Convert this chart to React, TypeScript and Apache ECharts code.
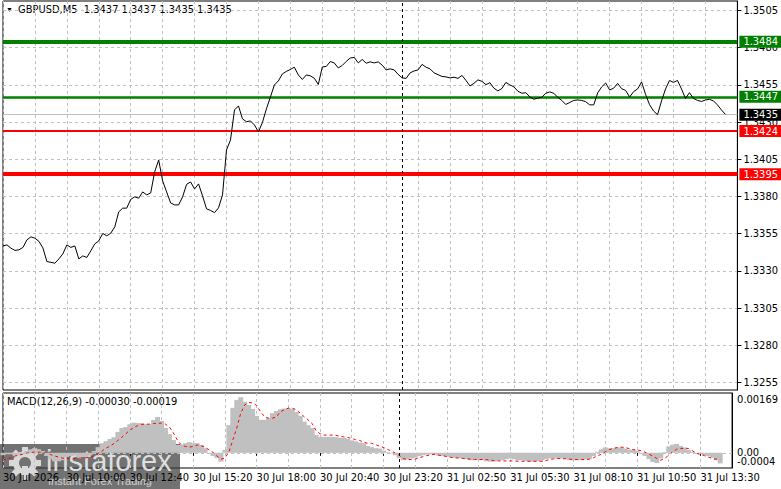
import { useEffect, useRef } from "react";
import * as echarts from "echarts";

// GBPUSD M5, one point every second bar (10 min)
const priceClose = [
  1.33468, 1.33475, 1.33453, 1.33438, 1.33442, 1.33458, 1.33509, 1.33529, 1.3352, 1.33499,
  1.33455, 1.33363, 1.33358, 1.33352, 1.33381, 1.33415, 1.33475, 1.33458, 1.33468, 1.33381,
  1.33401, 1.33391, 1.33435, 1.33482, 1.33502, 1.33552, 1.33536, 1.33554, 1.33596, 1.33697,
  1.33722, 1.33722, 1.33781, 1.33798, 1.33789, 1.33831, 1.33811, 1.33824, 1.33966, 1.34046,
  1.33905, 1.33831, 1.33757, 1.33744, 1.33744, 1.33798, 1.33882, 1.33898, 1.33851, 1.33885,
  1.33804, 1.33717, 1.33707, 1.33692, 1.33724, 1.33811, 1.34113, 1.3418, 1.34382, 1.34409,
  1.34322, 1.34303, 1.34308, 1.34281, 1.34234, 1.34298, 1.34389, 1.34469, 1.3455, 1.34577,
  1.34624, 1.34641, 1.34654, 1.34669, 1.34617, 1.34587, 1.34617, 1.34611, 1.34595, 1.34553,
  1.34671, 1.34674, 1.34707, 1.34698, 1.34664, 1.34681, 1.34708, 1.34731, 1.34735, 1.34698,
  1.34721, 1.34696, 1.34705, 1.34698, 1.34705, 1.34683, 1.34651, 1.34658, 1.34651, 1.34621,
  1.34597, 1.34594, 1.34631, 1.34644, 1.34651, 1.34688, 1.34669, 1.34658, 1.34631, 1.34619,
  1.34607, 1.34604, 1.34597, 1.34602, 1.34594, 1.34614, 1.3458, 1.34543, 1.34561, 1.34584,
  1.34574, 1.34552, 1.34565, 1.34528, 1.3451, 1.34526, 1.34567, 1.3455, 1.34537, 1.34508,
  1.34494, 1.34498, 1.34469, 1.34454, 1.34461, 1.34467, 1.34494, 1.34503, 1.34494, 1.34467,
  1.34446, 1.34419, 1.34432, 1.34446, 1.34449, 1.34446, 1.34437, 1.34416, 1.34416, 1.34496,
  1.34537, 1.34563, 1.34516, 1.34528, 1.3456, 1.34525, 1.34513, 1.34469, 1.34505, 1.34523,
  1.3457, 1.34486, 1.34417, 1.34375, 1.3435, 1.34443, 1.34523, 1.3458, 1.34567, 1.3458,
  1.34523, 1.34459, 1.34498, 1.34459, 1.34446, 1.34439, 1.34449, 1.34453, 1.34443, 1.34416,
  1.34382, 1.34352,
];

const macdHist = [
  -0.00007, -0.00004, -0.00004, -0.00007, -0.00007, -0.00004, 0.00005, 0.0001, 0.00013, 0.0001,
  0.00005, -0.00009, -0.00018, -0.00024, -0.00024, -0.00021, -0.00012, -0.00009, -0.00007, -0.00012,
  -0.00012, -0.00012, -0.00007, 0.00005, 0.00016, 0.00027, 0.00033, 0.00039, 0.00044, 0.00059,
  0.0007, 0.00073, 0.00081, 0.00085, 0.00084, 0.00084, 0.00081, 0.00081, 0.00093, 0.00101,
  0.0009, 0.0007, 0.00053, 0.00036, 0.00022, 0.00022, 0.00027, 0.0003, 0.00027, 0.00027,
  0.00022, 0.00013, -0.00001, -0.00009, -0.00015, -0.00025, 0.00008, 0.00078, 0.00127, 0.00149,
  0.00157, 0.00144, 0.00135, 0.00124, 0.00104, 0.00093, 0.00093, 0.00098, 0.00112, 0.00118,
  0.00123, 0.00125, 0.00126, 0.00124, 0.00115, 0.00104, 0.00088, 0.00078, 0.0007, 0.0005,
  0.00045, 0.00045, 0.00045, 0.00045, 0.00044, 0.00042, 0.00042, 0.00039, 0.00035, 0.00032,
  0.00029, 0.00027, 0.00019, 0.00016, 0.00013, 0.00012, 0.00006, 0.00002, -0.00002, -0.00007,
  -0.00015, -0.00021, -0.00019, -0.00016, -0.00014, -0.00009, -0.00007, -0.00005, -0.00004, -0.00005,
  -0.00008, -0.00009, -0.00011, -0.00012, -0.00014, -0.00015, -0.00016, -0.00018, -0.00021, -0.00021,
  -0.00021, -0.00021, -0.00024, -0.00025, -0.00025, -0.00022, -0.00021, -0.00018, -0.00016, -0.00018,
  -0.00021, -0.00021, -0.00024, -0.00025, -0.00025, -0.00024, -0.00021, -0.00018, -0.00016, -0.00016,
  -0.00016, -0.00016, -0.00018, -0.00021, -0.00021, -0.00021, -0.00021, -0.00019, -0.00018, -0.00009,
  0.00003, 0.0001, 0.00015, 0.00013, 0.00013, 0.00015, 0.00015, 0.00012, 0.00009, 0.00008,
  0.00006, -0.00001, -0.00009, -0.00018, -0.00026, -0.00029, -0.00016, 0.00002, 0.00018, 0.00023,
  0.00025, 0.00019, 0.00015, 0.00008, 0.00003, -0.00002, -0.00004, -0.00007, -0.00009, -0.00014,
  -0.00021, -0.0003,
];

const macdSignal = [
  -0.00021, -0.00018, -0.00014, -0.00009, -0.00007, -0.00004, -0.00001, 0.00001, 0.00002, 0.00002,
  0.00001, -0.00002, -0.00005, -0.00009, -0.00012, -0.00015, -0.00016, -0.00016, -0.00016, -0.00015,
  -0.00015, -0.00014, -0.00012, -0.00008, -0.00002, 0.00005, 0.00013, 0.00019, 0.00026, 0.00035,
  0.00044, 0.00054, 0.00064, 0.00071, 0.00077, 0.0008, 0.00081, 0.00081, 0.00083, 0.00083,
  0.00084, 0.00081, 0.00073, 0.00056, 0.00036, 0.00022, 0.00018, 0.00016, 0.00018, 0.00022,
  0.0002, 0.00016, 0.00008, 0.00001, -0.00009, -0.00018, -0.00015, 0.00002, 0.00036, 0.0007,
  0.00112, 0.00135, 0.00142, 0.00141, 0.00134, 0.00116, 0.00102, 0.00098, 0.00098, 0.00101,
  0.00116, 0.00122, 0.00126, 0.00126, 0.00122, 0.00112, 0.00102, 0.00093, 0.00083, 0.00063,
  0.00054, 0.0005, 0.0005, 0.0005, 0.00049, 0.00047, 0.00045, 0.00043, 0.00041, 0.00037,
  0.00035, 0.0003, 0.00027, 0.00027, 0.00023, 0.00019, 0.00015, 0.0001, 0.00005, -0.00001,
  -0.00007, -0.00016, -0.00019, -0.00019, -0.00018, -0.00014, -0.00011, -0.00008, -0.00005, -0.00004,
  -0.00007, -0.00008, -0.00011, -0.00013, -0.00014, -0.00015, -0.00016, -0.00017, -0.00018, -0.00019,
  -0.00019, -0.00019, -0.00019, -0.00021, -0.00022, -0.00023, -0.00023, -0.00023, -0.00023, -0.00023,
  -0.00024, -0.00024, -0.00024, -0.00024, -0.00024, -0.00024, -0.00024, -0.00022, -0.00019, -0.00017,
  -0.00016, -0.00016, -0.00017, -0.00018, -0.00019, -0.00019, -0.00019, -0.00019, -0.00018, -0.00014,
  -0.00009, -0.00004, 0.00003, 0.00009, 0.00012, 0.00015, 0.00016, 0.00015, 0.00012, 0.00009,
  0.00008, 0.00006, 0.00002, -0.00004, -0.00009, -0.00016, -0.00021, -0.00016, -0.00007, 0.00003,
  0.0001, 0.00012, 0.00013, 0.00012, 0.00006, -0.00002, -0.00004, -0.00008, -0.00012, -0.00016,
  -0.00018, -0.00019,
];

const slotCount = 185; // includes empty chart shift on the right
const categories = Array.from({ length: slotCount }, (_, i) => String(i));
const timeLabels = [
  "30 Jul 2026", "30 Jul 10:00", "30 Jul 12:40", "30 Jul 15:20", "30 Jul 18:00", "30 Jul 20:40",
  "30 Jul 23:20", "31 Jul 02:50", "31 Jul 05:30", "31 Jul 08:10", "31 Jul 10:50", "31 Jul 13:30",
];
const priceTicks = [1.3255, 1.328, 1.3305, 1.333, 1.3355, 1.338, 1.3405, 1.343, 1.3455, 1.348, 1.3505];
const macdUpperTicks = [0.00169, 0];
const macdLowerTicks = [-0.0004];
const greenLevels = [1.3484, 1.3447];
const redLevels = [1.3424, 1.3395];
const lastPrice = 1.3435;
const lastBar = [1.3437, 1.3437, 1.3435, 1.3435];
const macdLast = [-0.0003, -0.00019];
const separatorSlot = 100;

const FONT = '"Liberation Sans Narrow", "DejaVu Sans Condensed", "Liberation Sans", sans-serif';
const GRID = "#c0c0c0";

export default function App() {
  const ref = useRef<HTMLDivElement>(null);

  useEffect(() => {
    document.body.style.margin = "0";
    if (!ref.current) return;
    const chart = echarts.init(ref.current, undefined, { renderer: "svg" });

    const levelLabel = (bg: string) => ({
      show: true,
      position: "end",
      distance: 2,
      formatter: (p: any) => Number(p.value).toFixed(4),
      color: "#fff",
      backgroundColor: bg,
      fontFamily: FONT,
      fontSize: 11,
      padding: [1, 4, 0, 4],
    });
    const vSplit = { show: true, interval: 7, lineStyle: { color: GRID, type: [3, 3], width: 1 } };
    const macdAxisBase = {
      type: "value", gridIndex: 1, position: "right", min: -0.00043, max: 0.00169,
      axisTick: { show: false },
      splitLine: { show: false },
    };

    const teeth = Array.from({ length: 8 }, (_, k) => ({
      type: "rect",
      x: 25,
      y: 463,
      rotation: (k * Math.PI) / 4,
      shape: { x: -3, y: -16, width: 6, height: 6 },
      style: { fill: "#d9d9d9" },
    }));

    chart.setOption({
      animation: false,
      textStyle: { fontFamily: FONT },
      grid: [
        { left: 3, right: 41, top: 1, height: 389, show: true, borderColor: "#000", borderWidth: 1, backgroundColor: "#fff" },
        { left: 3, right: 41, top: 393, height: 75, show: true, borderColor: "#000", borderWidth: 1, backgroundColor: "#fff" },
      ],
      xAxis: [
        {
          type: "category", gridIndex: 0, data: categories, boundaryGap: false,
          axisLine: { show: false }, axisTick: { show: false }, axisLabel: { show: false },
          splitLine: vSplit,
        },
        {
          type: "category", gridIndex: 1, data: categories, boundaryGap: false,
          axisLine: { show: false },
          axisTick: { show: true, interval: 15, length: 3, lineStyle: { color: "#000" } },
          axisLabel: {
            interval: 15,
            formatter: (_: string, i: number) => timeLabels[i / 16] ?? "",
            align: "left", margin: 4, fontSize: 11, color: "#000", fontFamily: FONT,
          },
          splitLine: vSplit,
        },
      ],
      yAxis: [
        {
          type: "value", gridIndex: 0, position: "right", min: 1.325, max: 1.35114,
          axisLine: { show: true, lineStyle: { color: "#000" } },
          axisTick: { show: true, customValues: priceTicks, length: 4, lineStyle: { color: "#000" } },
          axisLabel: {
            customValues: priceTicks, formatter: (v: number) => v.toFixed(4),
            showMinLabel: true, showMaxLabel: true,
            fontSize: 11, color: "#000", margin: 6, fontFamily: FONT,
          },
          splitLine: { show: true, lineStyle: { color: GRID, type: [3, 3], width: 1 } },
        },
        {
          ...macdAxisBase,
          axisLine: { show: true, lineStyle: { color: "#000" } },
          axisLabel: {
            customValues: macdUpperTicks,
            showMinLabel: true, showMaxLabel: true,
            formatter: (v: number) => (v > 0 ? `{t|${v.toFixed(5)}}` : v.toFixed(2)),
            rich: { t: { padding: [12, 0, 0, 0], fontSize: 11, color: "#000", fontFamily: FONT } },
            fontSize: 11, color: "#000", margin: 5, fontFamily: FONT,
          },
        },
        {
          ...macdAxisBase,
          axisLine: { show: false },
          axisLabel: {
            customValues: macdLowerTicks,
            showMinLabel: true, showMaxLabel: true,
            formatter: (v: number) => `{b|${v.toFixed(4)}}`,
            rich: { b: { padding: [0, 0, 11, 0], fontSize: 11, color: "#000", fontFamily: FONT } },
            fontSize: 11, color: "#000", margin: 5, fontFamily: FONT,
          },
        },
      ],
      series: [
        {
          type: "line", name: "GBPUSD", xAxisIndex: 0, yAxisIndex: 0, data: priceClose,
          showSymbol: false, symbol: "none", z: 5,
          lineStyle: { color: "#000", width: 1 },
          markLine: {
            silent: true, symbol: ["none", "none"], precision: 5,
            data: [
              { yAxis: lastPrice, lineStyle: { color: GRID, width: 1, type: "solid" }, label: levelLabel("#000") },
              { yAxis: greenLevels[0], lineStyle: { color: "#008000", width: 4, type: "solid" }, label: levelLabel("#008000") },
              { yAxis: greenLevels[1], lineStyle: { color: "#008000", width: 2.5, type: "solid" }, label: levelLabel("#008000") },
              { yAxis: redLevels[0], lineStyle: { color: "#ff0000", width: 2, type: "solid" }, label: levelLabel("#ff0000") },
              { yAxis: redLevels[1], lineStyle: { color: "#ff0000", width: 4, type: "solid" }, label: levelLabel("#ff0000") },
              { xAxis: separatorSlot, lineStyle: { color: "#000", width: 1, type: [3, 3] }, label: { show: false } },
            ],
          },
        },
        {
          type: "bar", name: "MACD", xAxisIndex: 1, yAxisIndex: 1, data: macdHist,
          barWidth: 5, itemStyle: { color: GRID }, z: 2,
          markLine: {
            silent: true, symbol: ["none", "none"], precision: 6, label: { show: false },
            data: [
              { yAxis: 0, lineStyle: { color: GRID, width: 1, type: [3, 3] } },
              { xAxis: separatorSlot, lineStyle: { color: "#000", width: 1, type: [3, 3] } },
            ],
          },
        },
        {
          type: "line", name: "Signal", xAxisIndex: 1, yAxisIndex: 1, data: macdSignal,
          showSymbol: false, symbol: "none", z: 3,
          lineStyle: { color: "#ff0000", width: 1, type: [3, 3] },
        },
      ],
      graphic: [
        { type: "text", x: 6, y: 6, style: { text: "▼", fontSize: 7, fill: "#000" } },
        {
          type: "text", x: 18, y: 4,
          style: { text: `GBPUSD,M5  ${lastBar.map((v) => v.toFixed(4)).join(" ")}`, fontFamily: FONT, fontSize: 11, fill: "#000" },
        },
        {
          type: "text", x: 7, y: 396,
          style: { text: `MACD(12,26,9) ${macdLast.map((v) => v.toFixed(5)).join(" ")}`, fontFamily: FONT, fontSize: 11, fill: "#000" },
        },
        {
          type: "group", z: 100,
          children: [
            { type: "rect", shape: { x: 0, y: 444, width: 180, height: 45 }, style: { fill: "rgba(60,60,60,0.72)" } },
            { type: "ring", shape: { cx: 25, cy: 463, r: 12, r0: 6 }, style: { fill: "#d9d9d9" } },
            ...teeth,
            { type: "rect", shape: { x: 22, y: 466, width: 6, height: 14 }, style: { fill: "#d9d9d9" } },
            {
              type: "text", x: 46, y: 446,
              style: { text: "instaforex", fontFamily: "Liberation Sans", fontSize: 29, fill: "#dedede" },
            },
            {
              type: "text", x: 48, y: 475,
              style: { text: "Instant Forex Trading", fontFamily: "Liberation Sans", fontSize: 11, fill: "#d0d0d0" },
            },
          ],
        },
      ],
    });

    return () => chart.dispose();
  }, []);

  return <div ref={ref} style={{ width: 781, height: 489 }} />;
}
